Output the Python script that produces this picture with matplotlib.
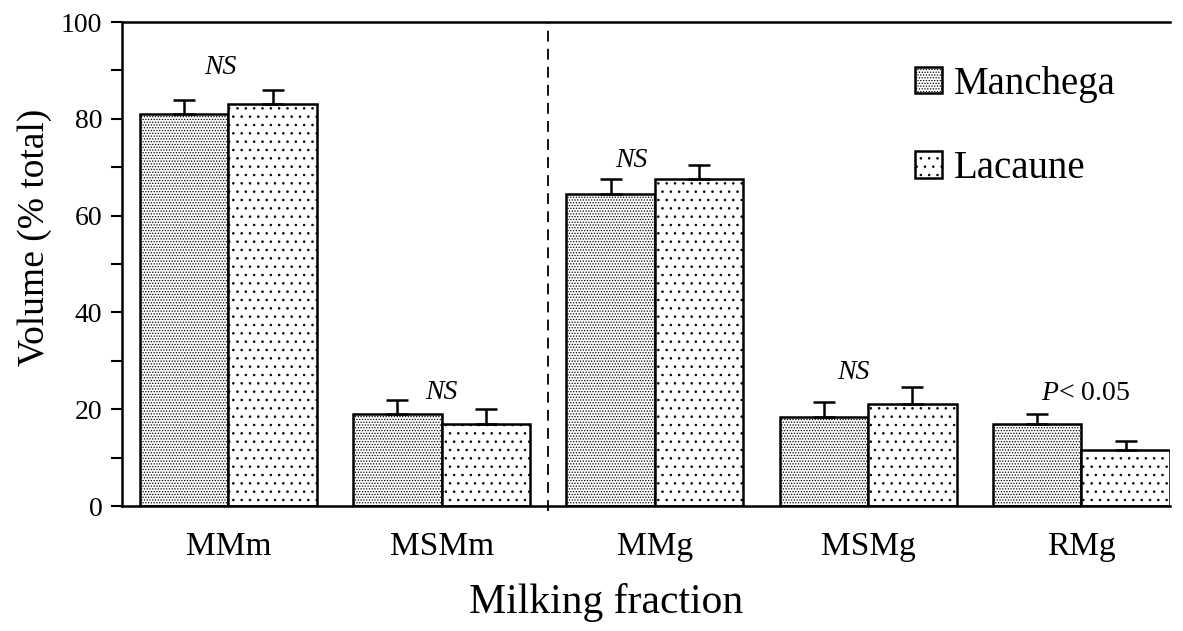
import numpy as np
import matplotlib
matplotlib.use("Agg")
import matplotlib.pyplot as plt
from matplotlib.patches import Patch
from matplotlib.ticker import MultipleLocator

# Data
fractions = ["MMm", "MSMm", "MMg", "MSMg", "RMg"]
manchega = [81, 19, 64.5, 18.5, 17]
manchega_err = [3, 3, 3, 3, 2]
lacaune = [83, 17, 67.5, 21, 11.5]
lacaune_err = [3, 3, 3, 3.5, 2]
notes = ["NS", "NS", "NS", "NS", "P< 0.05"]
note_y = [90.7, 23.5, 71.5, 27.5, 23.3]
note_dx = [-0.04, 0.0, -0.11, -0.07, 0.02]

plt.rcParams["font.family"] = ["Liberation Serif", "DejaVu Serif"]
plt.rcParams["mathtext.fontset"] = "custom"
plt.rcParams["mathtext.it"] = "Liberation Serif:italic"
plt.rcParams["mathtext.rm"] = "Liberation Serif"
plt.rcParams["hatch.linewidth"] = 0.6

fig = plt.figure(figsize=(11.83, 6.31), dpi=100)
ax = fig.add_axes([0.103, 0.198, 0.886, 0.767])

x = np.arange(len(fractions))
w = 0.415

ax.bar(x - w / 2, manchega, w, color="white", edgecolor="black", hatch="......",
       linewidth=1.8, zorder=2)
ax.bar(x + w / 2, lacaune, w, color="white", edgecolor="black", hatch="..",
       linewidth=1.8, zorder=2)
ax.errorbar(x - w / 2, manchega, yerr=[np.zeros(5), manchega_err], fmt="none",
            ecolor="black", elinewidth=1.8, capsize=8, capthick=1.8, zorder=3)
ax.errorbar(x + w / 2, lacaune, yerr=[np.zeros(5), lacaune_err], fmt="none",
            ecolor="black", elinewidth=1.8, capsize=8, capthick=1.8, zorder=3)

for i, (t, ty) in enumerate(zip(notes, note_y)):
    if t.startswith("P"):
        ax.text(x[i] + note_dx[i], ty, r"$P$< 0.05", ha="center", va="center",
                fontsize=20)
    else:
        ax.text(x[i] + note_dx[i], ty, t, ha="center", va="center",
                fontsize=20, style="italic")

ax.axvline(1.5, ymin=-0.01, ymax=1, color="black", linestyle=(0, (6, 4)),
           linewidth=1.3, clip_on=False, zorder=1)

ax.set_xlim(-0.5, 4.415)
ax.set_ylim(0, 100)
ax.set_xticks(x)
ax.set_xticklabels(fractions, fontsize=24)
ax.tick_params(axis="x", length=0, pad=18)
ax.yaxis.set_major_locator(MultipleLocator(20))
ax.yaxis.set_minor_locator(MultipleLocator(10))
ax.tick_params(axis="y", which="both", direction="out", length=8, width=1.5,
               labelsize=20, pad=6)
for s in ["left", "top", "bottom"]:
    ax.spines[s].set_linewidth(1.8)
ax.spines["right"].set_visible(False)

# axis titles, placed as in the reference (not centred on the axes)
fig.text(35 / 1183, 1 - 237 / 631, "Volume (% total)", rotation=90,
         ha="center", va="center", fontsize=27)
fig.text(606 / 1183, 1 - 603 / 631, "Milking fraction",
         ha="center", va="center", fontsize=30)

handles = [Patch(facecolor="white", edgecolor="black", hatch="......", linewidth=1.8),
           Patch(facecolor="white", edgecolor="black", hatch="..", linewidth=1.8)]
ax.legend(handles, ["Manchega", "Lacaune"], loc="upper left",
          bbox_to_anchor=(0.757, 0.91), frameon=False, fontsize=28,
          handlelength=0.68, handleheight=0.68, handletextpad=0.3,
          labelspacing=1.22, borderpad=0, borderaxespad=0)

fig.savefig("out.png", dpi=100)
